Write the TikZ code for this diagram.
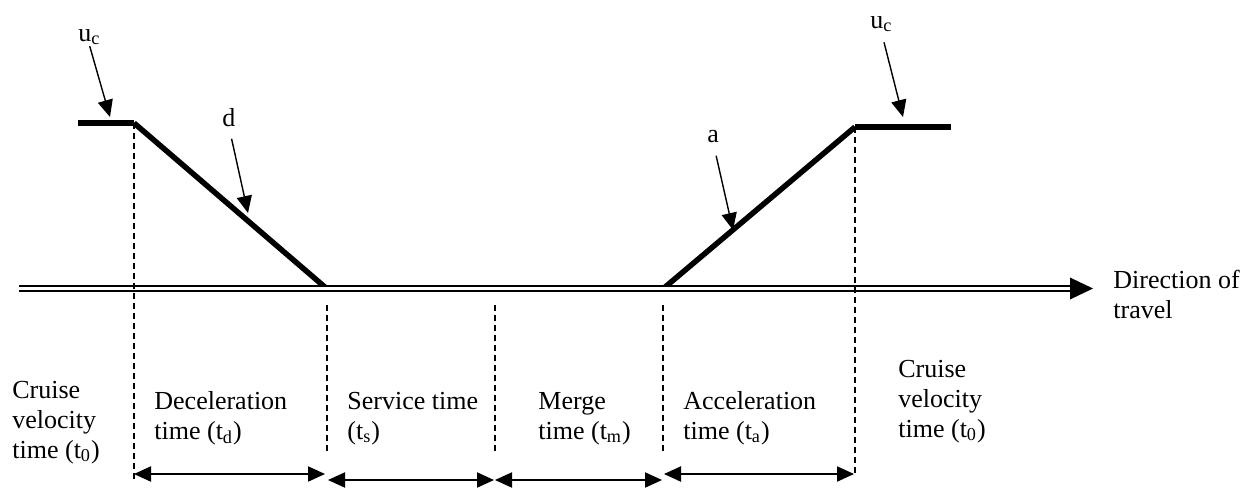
\documentclass[tikz,border=0pt]{standalone}
\usepackage{fontspec}
\setmainfont{Liberation Serif}
\usetikzlibrary{arrows.meta}
\begin{document}
\begin{tikzpicture}[x=0.5pt,y=-0.5pt,
  lbl/.style={font=\fontsize{13pt}{15pt}\selectfont, inner sep=0pt, anchor=base west, align=left},
  speed/.style={line width=2.75pt},
  road/.style={double, double distance=1.65pt, line width=1pt},
  guide/.style={dash pattern=on 3pt off 2pt, line width=0.6pt},
  ptr/.style={-{Triangle[length=8.5pt,width=7.6pt]}, line width=0.7pt},
  span/.style={{Triangle[length=8.5pt,width=7.6pt]}-{Triangle[length=8.5pt,width=7.6pt]}, line width=0.7pt},
]
\useasboundingbox (0,0) rectangle (1260,489);

% speed profile
\coordinate (cL0) at (78,123);
\coordinate (cL1) at (134,123);
\coordinate (dEnd) at (326,288);
\coordinate (aStart) at (664,288);
\coordinate (cR0) at (855,127);
\coordinate (cR1) at (951,127);
\draw[speed] (cL0) -- (cL1);
\draw[speed] (cL1) -- (dEnd);
\draw[speed] (aStart) -- (cR0);
\draw[speed] (cR0) -- (cR1);

% road
\coordinate (roadStart) at (19,288.5);
\coordinate (roadBase) at (1070,288.5);
\coordinate (roadTip) at (1093,288.5);
\draw[road] (roadStart) -- (roadBase);
\fill (roadTip) -- ([shift={(0,-11)}]roadBase) -- ([shift={(0,11)}]roadBase) -- cycle;

% guide lines
\coordinate (g1b) at (134,482);
\coordinate (g2t) at (327,305); \coordinate (g2b) at (327,452);
\coordinate (g3t) at (495,305); \coordinate (g3b) at (495,452);
\coordinate (g4t) at (663,305); \coordinate (g4b) at (663,452);
\coordinate (g5b) at (855,475);
\draw[guide] (cL1) -- (g1b);
\draw[guide] (g2t) -- (g2b);
\draw[guide] (g3t) -- (g3b);
\draw[guide] (g4t) -- (g4b);
\draw[guide] (cR0) -- (g5b);

% spans
\coordinate (s1a) at (134,474); \coordinate (s1b) at (325,474);
\coordinate (s2a) at (328,480); \coordinate (s2b) at (494,480);
\coordinate (s3a) at (495,480); \coordinate (s3b) at (662,480);
\coordinate (s4a) at (664,474); \coordinate (s4b) at (854,474);
\draw[span] (s1a) -- (s1b);
\draw[span] (s2a) -- (s2b);
\draw[span] (s3a) -- (s3b);
\draw[span] (s4a) -- (s4b);

% pointer labels
\node[lbl] (ucL) at (78,41) {u\textsubscript{c}};
\node[lbl] (ucR) at (870,28) {u\textsubscript{c}};
\node[lbl] (dlab) at (222,126) {d};
\node[lbl] (alab) at (707,142) {a};
\coordinate (tucL) at (110,117);
\coordinate (tucR) at (903,117);
\coordinate (td) at (248,213);
\coordinate (ta) at (733,230);
\draw[ptr, shorten <=0.5pt] (ucL.south) -- (tucL);
\draw[ptr, shorten <=5.2pt] (ucR.south) -- (tucR);
\draw[ptr, shorten <=6.2pt] (dlab.south) -- (td);
\draw[ptr, shorten <=6.7pt] (alab.south) -- (ta);

% period labels (base anchor = baseline of last line)
\node[lbl] (cruiseL) at (12,458) {Cruise\\velocity\\time (t\textsubscript{0})};
\node[lbl] (decel) at (154,439) {Deceleration\\time (t\textsubscript{d})};
\node[lbl] (service) at (347,439) {Service time\\(t\textsubscript{s})};
\node[lbl] (merge) at (538,439) {Merge\\time (t\textsubscript{m})};
\node[lbl] (accel) at (683,439) {Acceleration\\time (t\textsubscript{a})};
\node[lbl] (cruiseR) at (898,437) {Cruise\\velocity\\time (t\textsubscript{0})};
\node[lbl] (dir) at (1113,318) {Direction of\\travel};
\end{tikzpicture}
\end{document}
